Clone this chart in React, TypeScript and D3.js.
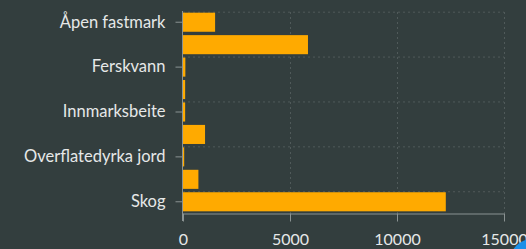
import React, { useEffect, useRef } from 'react';
import * as d3 from 'd3';

const width = 526;
const height = 249;
const margin = { top: 11, right: 22, bottom: 36, left: 183 };

// arealtyper (only every second name is shown on the axis)
const categories: string[] = [
    'Åpen fastmark',
    'Bebygd',
    'Ferskvann',
    'Fulldyrka jord',
    'Innmarksbeite',
    'Myr',
    'Overflatedyrka jord',
    'Samferdsel',
    'Skog',
];
const values: number[] = [1500, 5840, 110, 100, 100, 1030, 25, 720, 12280];
const xTicks: number[] = [0, 5000, 10000, 15000];

const bg = '#333e3e';
const barColor = '#ffaa00';
const textColor = '#e6e8e8';
const axisColor = '#8a9292';

const Chart = () => {
    const ref = useRef<SVGSVGElement>(null);

    useEffect(() => {
        const svg = d3.select(ref.current);
        svg.selectAll('*').remove();

        const x = d3.scaleLinear()
            .domain([0, 15000])
            .range([margin.left, width - margin.right]);
        const y = d3.scaleBand<string>()
            .domain(categories)
            .range([margin.top, height - margin.bottom])
            .paddingInner(0.15)
            .paddingOuter(0.075);

        svg.append('rect').attr('width', width).attr('height', height).attr('fill', bg);

        const labelled = categories.filter((_, i) => i % 2 === 0);

        // grid
        const grid = svg.append('g')
            .attr('stroke', '#505a5a')
            .attr('stroke-dasharray', '2,3')
            .attr('stroke-width', 1);
        grid.selectAll('line.h')
            .data(labelled)
            .join('line')
            .attr('class', 'h')
            .attr('x1', margin.left)
            .attr('x2', x(15000))
            .attr('y1', d => (y(d) as number) - 0.5)
            .attr('y2', d => (y(d) as number) - 0.5);
        grid.selectAll('line.v')
            .data(xTicks.slice(1))
            .join('line')
            .attr('class', 'v')
            .attr('x1', d => x(d) + 0.5)
            .attr('x2', d => x(d) + 0.5)
            .attr('y1', margin.top + 1)
            .attr('y2', height - margin.bottom);

        // bars
        svg.append('g')
            .selectAll('rect')
            .data(categories)
            .join('rect')
            .attr('x', x(0))
            .attr('y', d => y(d) as number)
            .attr('width', (d, i) => Math.max(1.2, x(values[i]) - x(0)))
            .attr('height', y.bandwidth())
            .attr('fill', barColor);

        // y axis
        const yAxis = svg.append('g')
            .attr('transform', `translate(${margin.left - 0.5},0)`)
            .call(d3.axisLeft(y).tickValues(labelled).tickSize(7).tickPadding(10));
        yAxis.select('.domain')
            .attr('stroke', axisColor)
            .attr('d', `M0,${margin.top}V${height - margin.bottom + 8}`);
        yAxis.selectAll('.tick line').attr('stroke', axisColor);
        yAxis.selectAll('.tick text')
            .attr('fill', textColor)
            .attr('font-family', 'Lato, sans-serif')
            .attr('font-size', 16.5);

        // x axis
        const xAxis = svg.append('g')
            .attr('transform', `translate(0,${height - margin.bottom + 0.5})`)
            .call(d3.axisBottom(x).tickValues(xTicks).tickFormat(d3.format('d')).tickSize(8).tickSizeOuter(0).tickPadding(12));
        xAxis.select('.domain').attr('stroke', axisColor);
        xAxis.selectAll('.tick line').attr('stroke', axisColor);
        xAxis.selectAll('.tick text')
            .attr('fill', textColor)
            .attr('font-family', 'Lato, sans-serif')
            .attr('font-size', 16);

        // corner widget
        svg.append('circle')
            .attr('cx', width + 6)
            .attr('cy', height + 12)
            .attr('r', 22)
            .attr('fill', '#1c8fe8');
    }, []);

    return (
        <svg
            ref={ref}
            width={width}
            height={height}
            style={{ position: 'absolute', left: 0, top: 0, display: 'block' }}
        />
    );
};

export const App = () => <Chart />;

export default App;
